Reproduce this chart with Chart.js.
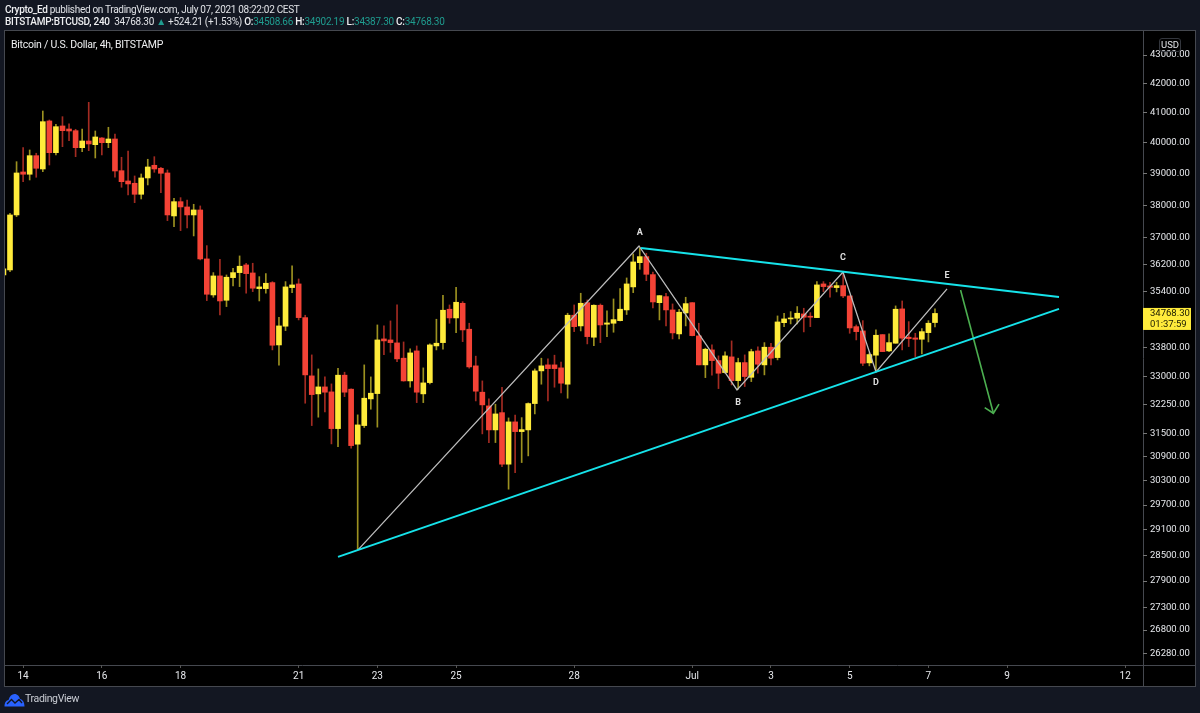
<!DOCTYPE html>
<html>
<head>
<meta charset="utf-8">
<script src="https://cdn.jsdelivr.net/npm/chart.js@4/dist/chart.umd.min.js"></script>
<style>
html, body { margin: 0; padding: 0; background: #131722; }
body { width: 1200px; height: 713px; position: relative; overflow: hidden; font-family: Roboto, sans-serif; color: #e0e2e6; }
canvas { position: absolute; left: 0; top: 0; }
.txt { position: absolute; white-space: nowrap; z-index: 2; }
.txt b { font-weight: 500; color: #eeeff1; }
.teal { color: #1f9c8f; }
</style>
</head>
<body>
<canvas id="chart" width="1200" height="713"></canvas>
<div class="txt" style="left:5px;top:3px;font-size:10px;letter-spacing:-0.3px;line-height:14px"><b>Crypto_Ed</b> published on TradingView.com, July 07, 2021 08:22:02 CEST</div>
<div class="txt" style="left:5px;top:15px;font-size:10px;letter-spacing:-0.27px;line-height:14px"><b>BITSTAMP:BTCUSD, 240</b>&nbsp; 34768.30 <span class="teal">▲</span> +524.21 (+1.53%) <b>O:</b><span class="teal">34508.66</span> <b>H:</b><span class="teal">34902.19</span> <b>L:</b><span class="teal">34387.30</span> <b>C:</b><span class="teal">34768.30</span></div>
<div class="txt" style="left:11px;top:38px;font-size:10.5px;letter-spacing:-0.25px;line-height:14px;color:#eeeff1">Bitcoin / U.S. Dollar, 4h, BITSTAMP</div>
<div class="txt" style="left:1159px;top:38px;font-size:9.5px;line-height:12px;padding:0 1px;border:1px solid #33363d;border-radius:3px;color:#e0e2e6">USD</div>
<svg class="txt" style="left:4px;top:693px" width="21" height="14" viewBox="0 0 21 14"><path d="M0.5 13.5 C0.5 9 2.5 7.5 4.5 7 C5.5 3 8 1 10.5 1 C13.5 1 15.5 3.5 16 6 C18.5 6.5 20.5 9 20.5 13.5 Z" fill="#2962ff"/><path d="M3 11 L7.5 6.5 L11 10 L15 6.5 L18 10" fill="none" stroke="#131722" stroke-width="1.4"/></svg>
<div class="txt" style="left:25px;top:692px;font-size:10.5px;letter-spacing:-0.35px;line-height:14px;color:#c9ccd3">TradingView</div>
<script>
const opens = [
	35886,36034,37701,39057,38984,39584,39153,40730,39682,40563,
	40462,40406,39845,40065,39944,40164,40010,40131,39098,38769,
	38696,38347,38865,39272,39176,39025,37670,38115,37950,37701,
	37856,36362,35301,35857,35147,35807,35955,36183,35945,35485,
	35485,35661,33879,34405,35515,35622,34649,33028,32543,32730,
	32596,31627,33047,32669,31224,31706,32409,32551,34047,34019,
	33936,33512,32892,33713,32543,32846,33852,33944,34889,34640,
	35060,34320,33301,32588,32223,31593,32045,30715,31802,31549,
	31593,32285,33164,33328,33328,33246,32803,34717,34413,35078,
	34095,35003,34461,34489,34563,34869,35535,36251,36431,35896,
	35078,35252,34869,34188,34783,35078,34132,33328,33741,33446,
	33118,33548,32900,33391,32990,33713,33328,33816,33529,34506,
	34612,34632,34754,34689,34649,35622,35564,35515,35573,35272,
	34393,34272,33383,33595,34168,33713,33927,34898,34095,34075,
	34038,34224,34508.66
];
const closes = [
	36064,37701,39025,38984,39584,39176,40706,39682,40539,40406,
	40396,39845,40065,39967,40197,40010,40131,39089,38747,38674,
	38347,38865,39218,39153,39015,37701,38115,37950,37701,37856,
	36362,35321,35857,35127,35819,35955,36144,35925,35497,35535,
	35642,33871,34413,35535,35593,34649,33055,32524,32730,32588,
	31627,33047,32588,31188,31723,32427,32561,34019,33992,33944,
	33493,32892,33658,32588,32838,33880,33927,34860,34640,35089,
	34300,33273,32615,32250,31593,32011,30715,31802,31549,31601,
	32285,33164,33301,33226,33226,32830,34717,34393,35060,34112,
	35003,34441,34498,34592,34889,35622,36272,36431,35905,35098,
	35281,34869,34216,34803,35050,34140,33328,33760,33446,33100,
	33576,32900,33391,33010,33694,33346,33816,33512,34526,34612,
	34640,34774,34660,34660,35593,35544,35525,35573,35272,34356,
	34252,33374,33612,34150,33694,33944,34889,34068,34056,34038,
	34252,34489,34768.30
];
const highs = [
	36090,37754,39389,39845,39770,39663,41065,40763,40620,40874,
	40630,40452,40462,41359,40396,40174,40519,40296,39532,39737,
	38929,38993,39467,39551,39208,39121,38222,38241,38168,38033,
	37981,36762,35955,36353,35886,36084,36452,36233,36233,35836,
	35925,35690,34660,35690,36153,35768,34717,33603,33218,33000,
	32811,33237,33128,32677,31986,33328,33000,34441,34413,34555,
	35012,33963,33769,33852,33246,33908,34603,35292,35012,35525,
	35107,34489,33568,32892,32409,32268,32722,31906,31978,31914,
	32303,33218,33512,33493,33595,33402,34774,35012,35350,35156,
	35012,35041,34840,35185,35485,35798,36512,36683,36532,35974,
	35281,35350,35041,34889,35234,35078,34489,33788,33880,33576,
	33686,33992,33512,33603,33760,33825,33944,33927,34697,34774,
	34820,34965,34917,34792,35690,35690,35672,35672,35945,35272,
	34441,34563,33658,34300,34168,34188,34984,35127,34535,34206,
	34337,34563,34902.19
];
const lows = [
	35860,35984,37649,38747,38801,38887,39066,39282,39607,39878,
	40075,39551,39715,39747,39509,39607,39845,38887,38569,38325,
	38084,38199,38642,39047,38398,37525,37340,37218,37300,37056,
	36332,35136,35234,34726,34965,35564,35544,35350,35398,35127,
	35350,33741,33320,34281,35368,34583,32294,31706,31925,32064,
	31232,31163,32470,31122,28625,31655,32135,31665,33612,33675,
	33418,32884,32722,32310,32310,32811,33741,33760,34489,34224,
	33972,33237,32355,31490,31266,31266,30655,30090,30504,30756,
	30925,32011,32803,32355,32722,32570,32427,34252,34272,33908,
	33860,33944,34112,34235,34555,34737,35368,36054,35718,34926,
	34583,34413,34047,34047,34413,34132,33328,32981,33047,32685,
	33100,32784,32668,32740,32873,33100,33055,33328,33465,34393,
	34470,34470,34244,34393,34649,35398,35234,35389,35223,34206,
	34019,33308,33301,33172,33694,33694,33927,33741,33834,33557,
	33631,33963,34387.30
];

const priceTicks = [43000,42000,41000,40000,39000,38000,37000,36200,35400,33800,33000,32250,31500,30900,30300,29700,29100,28500,27900,27300,26800,26280];
const dateTickBars = [3,15,27,45,57,69,87,105,117,129,141,153,171];
const dateTickLabels = ["14","16","18","21","23","25","28","Jul","3","5","7","9","12"];

// drawings, in bar number / price
const upperLineBars = [97.19,160.91];
const upperLinePrices = [36692,35243];
const lowerLineBars = [51,160.91];
const lowerLinePrices = [28462,34898];
const waveBars = [54.05,96.88,111.82,127.98,133.01,143.84];
const wavePrices = [28625,36752,32650,35974,33136,35476];
const arrowBars = [145.9,150.9];
const arrowPrices = [35447,32028];
const arrowHeadBars = [149.58,150.9,151.76];
const arrowHeadPrices = [32178,32028,32268];
const waveNames = ["A","B","C","D","E"];
const waveNameBars = [97,111.98,127.98,133.01,143.84];
const waveNamePrices = [37147,32302,36392,32838,35856];

const lastPrice = closes[closes.length - 1];
const countdown = "01:37:59";

const FRAME = { left: 5, top: 31, right: 1195, bottom: 686, axisX: 1143, axisY: 665 };
const UP = "#ffeb3b";
const DOWN = "#f44336";
const UP_WICK = "#9c9120";
const DOWN_WICK = "#a32b22";

function ToPoints(bars, prices)
{
	return bars.map((bar, i) => ({ x: bar, y: prices[i] }));
}

function LineSet(bars, prices, color, width)
{
	return {
		type: "line",
		data: ToPoints(bars, prices),
		borderColor: color,
		borderWidth: width,
		pointRadius: 0,
		tension: 0,
		order: 0
	};
}

const wicks = highs.map((high, i) => ({ x: i, y: [lows[i], high] }));
const bodies = opens.map((open, i) => ({ x: i, y: [open, closes[i]] }));
const isUp = opens.map((open, i) => closes[i] >= open);

const framePlugin =
{
	id: "frame",
	beforeDraw(chart)
	{
		const ctx = chart.ctx;
		ctx.save();
		ctx.fillStyle = "#000000";
		ctx.fillRect(FRAME.left, FRAME.top, FRAME.right - FRAME.left, FRAME.bottom - FRAME.top);
		ctx.strokeStyle = "#45484f";
		ctx.lineWidth = 1;
		ctx.strokeRect(FRAME.left - 0.5, FRAME.top - 0.5, FRAME.right - FRAME.left + 1, FRAME.bottom - FRAME.top + 1);
		ctx.beginPath();
		ctx.moveTo(FRAME.axisX + 0.5, FRAME.top);
		ctx.lineTo(FRAME.axisX + 0.5, FRAME.bottom);
		ctx.moveTo(FRAME.left, FRAME.axisY + 0.5);
		ctx.lineTo(FRAME.right, FRAME.axisY + 0.5);
		ctx.stroke();
		ctx.restore();
	},
	afterDraw(chart)
	{
		const ctx = chart.ctx;
		const x = chart.scales.x;
		const y = chart.scales.y;
		ctx.save();
		ctx.textAlign = "center";
		ctx.textBaseline = "middle";
		ctx.font = "bold 9px Roboto";
		ctx.fillStyle = "#dedede";
		waveNames.forEach((name, i) =>
		{
			ctx.fillText(name, x.getPixelForValue(waveNameBars[i]), y.getPixelForValue(waveNamePrices[i]));
		});

		const labelY = y.getPixelForValue(lastPrice);
		ctx.fillStyle = UP;
		ctx.fillRect(FRAME.axisX, labelY - 5.5, 48, 22);
		ctx.fillStyle = "#1a1a00";
		ctx.textAlign = "left";
		ctx.font = "9.5px Roboto";
		ctx.fillText(lastPrice.toFixed(2), FRAME.axisX + 7, labelY + 0.5);
		ctx.fillText(countdown, FRAME.axisX + 7, labelY + 11);
		ctx.restore();
	}
};

new Chart(document.getElementById("chart"),
{
	type: "bar",
	data:
	{
		datasets:
		[
			LineSet(upperLineBars, upperLinePrices, "#16e3ea", 2),
			LineSet(lowerLineBars, lowerLinePrices, "#16e3ea", 2),
			LineSet(waveBars, wavePrices, "#bdbdbd", 1.3),
			LineSet(arrowBars, arrowPrices, "#4caf50", 1.6),
			LineSet(arrowHeadBars, arrowHeadPrices, "#4caf50", 1.6),
			{
				data: bodies,
				backgroundColor: isUp.map(up => up ? UP : DOWN),
				barThickness: 5,
				grouped: false,
				order: 1
			},
			{
				data: wicks,
				backgroundColor: isUp.map(up => up ? UP_WICK : DOWN_WICK),
				barThickness: 1,
				grouped: false,
				order: 2
			}
		]
	},
	options:
	{
		responsive: false,
		animation: false,
		events: [],
		layout: { padding: { left: FRAME.left, top: FRAME.top, right: 1200 - FRAME.right, bottom: 713 - FRAME.bottom } },
		plugins: { legend: { display: false }, tooltip: { enabled: false } },
		scales:
		{
			x:
			{
				type: "linear",
				offset: false,
				min: 0.238,
				max: 173.71,
				grid: { offset: false, drawOnChartArea: false, tickLength: 3, color: "#555555" },
				border: { display: false },
				afterBuildTicks(scale) { scale.ticks = dateTickBars.map(bar => ({ value: bar })); },
				afterFit(scale) { scale.height = FRAME.bottom - FRAME.axisY; },
				ticks:
				{
					autoSkip: false,
					maxRotation: 0,
					padding: 2,
					color: "#e6e8ec",
					font: { family: "Roboto", size: 10 },
					callback: (value, index) => dateTickLabels[index]
				}
			},
			y:
			{
				type: "logarithmic",
				position: "right",
				min: 26040,
				max: 43857,
				grid: { drawOnChartArea: false, tickLength: 4, color: "#777777" },
				border: { display: false },
				afterBuildTicks(scale) { scale.ticks = priceTicks.map(price => ({ value: price })); },
				afterFit(scale) { scale.width = FRAME.right - FRAME.axisX; },
				ticks:
				{
					autoSkip: false,
					padding: 3,
					color: "#e6e8ec",
					font: { family: "Roboto", size: 9.5 },
					callback: value => value.toFixed(2)
				}
			}
		}
	},
	plugins: [framePlugin]
});
</script>
</body>
</html>
